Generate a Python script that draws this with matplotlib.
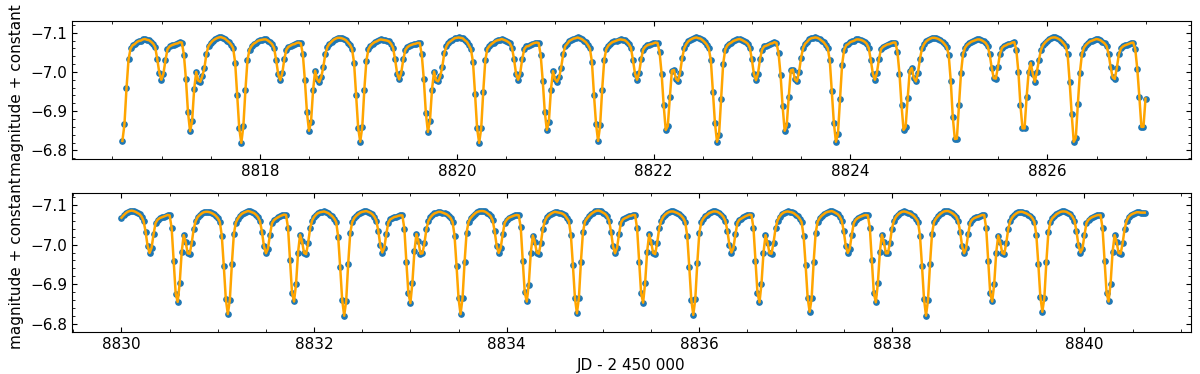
import numpy as np
import matplotlib
matplotlib.use("Agg")
import matplotlib.pyplot as plt
from matplotlib.ticker import MultipleLocator, AutoMinorLocator

# ---------------- data ----------------
cadence = 0.0208333          # days between samples (30 min)
top_start = 8816.602         # JD - 2450000 of first point, upper panel
bottom_start = 8830.000      # JD - 2450000 of first point, lower panel

top_mag = [
    # cycle 0
    -6.824, -6.866, -6.958, -7.032, -7.060, -7.068, -7.071, -7.076, -7.079, -7.080,
    -7.083, -7.084, -7.082, -7.081, -7.077, -7.072, -7.063, -7.033, -6.998, -6.980,
    -6.995, -7.030, -7.058, -7.065, -7.068, -7.070, -7.072, -7.073, -7.076, -7.075,
    -7.044, -6.981, -6.897, -6.849, -6.874, -6.956, -7.000, -6.978, -6.975, -6.990,
    -7.010, -7.047, -7.066, -7.073, -7.079, -7.083, -7.086, -7.088, -7.089, -7.087,
    -7.085, -7.080, -7.076, -7.070, -7.061, -7.024, -6.940, -6.856,
    # cycle 1
    -6.819, -6.862, -6.953, -7.030, -7.057, -7.066, -7.072, -7.075, -7.079, -7.081,
    -7.082, -7.083, -7.083, -7.080, -7.076, -7.071, -7.061, -7.030, -6.994, -6.979,
    -6.997, -7.034, -7.057, -7.064, -7.067, -7.070, -7.071, -7.074, -7.075, -7.073,
    -7.046, -6.979, -6.898, -6.850, -6.872, -6.953, -7.003, -6.981, -6.974, -6.987,
    -7.013, -7.046, -7.064, -7.072, -7.077, -7.082, -7.085, -7.087, -7.087, -7.086,
    -7.084, -7.081, -7.075, -7.069, -7.059, -7.023, -6.941, -6.857,
    # cycle 2
    -6.822, -6.860, -6.955, -7.029, -7.058, -7.067, -7.072, -7.076, -7.078, -7.081,
    -7.083, -7.082, -7.081, -7.080, -7.078, -7.072, -7.062, -7.032, -6.996, -6.981,
    -6.998, -7.032, -7.056, -7.063, -7.067, -7.069, -7.071, -7.072, -7.074, -7.074,
    -7.045, -6.982, -6.896, -6.847, -6.875, -6.955, -7.001, -6.979, -6.976, -6.989,
    -7.012, -7.048, -7.065, -7.074, -7.078, -7.082, -7.086, -7.087, -7.088, -7.087,
    -7.086, -7.081, -7.077, -7.068, -7.058, -7.025, -6.944, -6.856,
    # cycle 3
    -6.819, -6.856, -6.950, -7.030, -7.059, -7.066, -7.071, -7.075, -7.079, -7.081,
    -7.082, -7.084, -7.082, -7.080, -7.077, -7.073, -7.062, -7.033, -6.995, -6.980,
    -6.996, -7.033, -7.058, -7.065, -7.066, -7.069, -7.072, -7.074, -7.075, -7.074,
    -7.044, -6.978, -6.899, -6.852, -6.873, -6.954, -7.002, -6.982, -6.975, -6.986,
    -7.011, -7.046, -7.066, -7.072, -7.079, -7.082, -7.085, -7.086, -7.088, -7.086,
    -7.084, -7.080, -7.076, -7.069, -7.060, -7.026, -6.942, -6.868,
    # cycle 4
    -6.824, -6.864, -6.955, -7.031, -7.058, -7.067, -7.072, -7.076, -7.078, -7.080,
    -7.082, -7.083, -7.082, -7.081, -7.077, -7.071, -7.062, -7.031, -6.996, -6.980,
    -6.997, -7.032, -7.057, -7.064, -7.068, -7.070, -7.071, -7.073, -7.075, -7.074,
    -7.050, -6.995, -6.915, -6.852, -6.862, -6.935, -7.003, -7.005, -6.982, -6.977,
    -6.998, -7.035, -7.060, -7.071, -7.078, -7.082, -7.085, -7.087, -7.088, -7.086,
    -7.085, -7.081, -7.076, -7.070, -7.060, -7.030, -6.950, -6.870,
    # cycle 5
    -6.822, -6.840, -6.930, -7.020, -7.057, -7.067, -7.072, -7.075, -7.079, -7.081,
    -7.083, -7.084, -7.082, -7.079, -7.076, -7.072, -7.062, -7.032, -6.995, -6.979,
    -6.996, -7.033, -7.057, -7.065, -7.067, -7.069, -7.072, -7.073, -7.076, -7.074,
    -7.049, -6.993, -6.913, -6.850, -6.864, -6.937, -7.004, -7.006, -6.981, -6.976,
    -6.999, -7.036, -7.061, -7.072, -7.077, -7.083, -7.086, -7.087, -7.088, -7.087,
    -7.084, -7.080, -7.076, -7.069, -7.061, -7.030, -6.952, -6.870,
    # cycle 6
    -6.822, -6.842, -6.930, -7.018, -7.056, -7.068, -7.071, -7.076, -7.078, -7.080,
    -7.083, -7.083, -7.082, -7.080, -7.077, -7.072, -7.061, -7.031, -6.996, -6.980,
    -6.998, -7.033, -7.058, -7.064, -7.067, -7.070, -7.071, -7.073, -7.075, -7.075,
    -7.051, -6.996, -6.915, -6.852, -6.860, -6.933, -7.002, -7.010, -6.985, -6.976,
    -6.997, -7.034, -7.060, -7.071, -7.078, -7.082, -7.085, -7.087, -7.087, -7.086,
    -7.084, -7.081, -7.077, -7.071, -7.064, -7.044, -6.978, -6.885,
    # cycle 7
    -6.829, -6.830, -6.915, -6.997, -7.046, -7.062, -7.069, -7.073, -7.077, -7.079,
    -7.081, -7.083, -7.083, -7.081, -7.078, -7.074, -7.066, -7.045, -7.010, -6.984,
    -6.983, -7.012, -7.046, -7.061, -7.066, -7.068, -7.071, -7.072, -7.075, -7.076,
    -7.056, -7.000, -6.915, -6.856, -6.856, -6.935, -7.000, -7.023, -6.996, -6.975,
    -7.000, -7.030, -7.056, -7.068, -7.075, -7.080, -7.084, -7.087, -7.088, -7.088,
    -7.086, -7.083, -7.079, -7.073, -7.066, -7.045, -6.975, -6.892,
    # cycle 8 (partial)
    -6.822, -6.832, -6.918, -6.998, -7.046, -7.062, -7.069, -7.074, -7.078, -7.080,
    -7.082, -7.084, -7.083, -7.081, -7.077, -7.073, -7.066, -7.046, -7.012, -6.986,
    -6.982, -7.010, -7.045, -7.060, -7.065, -7.068, -7.070, -7.072, -7.074, -7.075,
    -7.058, -7.007, -6.936, -6.860, -6.860, -6.932,
]

bottom_mag = [
    # partial cycle
    -7.068, -7.074, -7.079, -7.083, -7.085,
    -7.086, -7.085, -7.083, -7.080, -7.077, -7.071, -7.060, -7.033, -6.997, -6.979,
    -6.992, -7.027, -7.055, -7.063, -7.067, -7.069, -7.071, -7.073, -7.075, -7.074,
    -7.042, -6.958, -6.876, -6.855, -6.902, -6.981, -7.024, -7.006, -6.978, -6.977,
    -7.004, -7.040, -7.060, -7.070, -7.075, -7.079, -7.082, -7.083, -7.083, -7.082,
    -7.080, -7.077, -7.073, -7.067, -7.058, -7.022, -6.945, -6.862,
    # cycle 1
    -6.824, -6.860, -6.950, -7.027, -7.056, -7.066, -7.073, -7.078, -7.081, -7.083,
    -7.085, -7.084, -7.082, -7.080, -7.076, -7.070, -7.060, -7.033, -6.996, -6.978,
    -6.990, -7.025, -7.054, -7.062, -7.066, -7.069, -7.072, -7.074, -7.076, -7.075,
    -7.043, -6.960, -6.878, -6.856, -6.900, -6.980, -7.025, -7.008, -6.979, -6.976,
    -7.003, -7.041, -7.061, -7.070, -7.076, -7.080, -7.082, -7.083, -7.084, -7.082,
    -7.080, -7.076, -7.072, -7.066, -7.057, -7.020, -6.943, -6.860,
    # cycle 2
    -6.820, -6.858, -6.952, -7.029, -7.057, -7.067, -7.073, -7.077, -7.081, -7.083,
    -7.084, -7.085, -7.083, -7.081, -7.077, -7.071, -7.061, -7.035, -6.998, -6.980,
    -6.992, -7.027, -7.056, -7.064, -7.067, -7.070, -7.071, -7.073, -7.074, -7.074,
    -7.040, -6.955, -6.877, -6.852, -6.904, -6.983, -7.027, -7.008, -6.977, -6.978,
    -7.004, -7.040, -7.060, -7.069, -7.075, -7.079, -7.081, -7.083, -7.083, -7.081,
    -7.079, -7.077, -7.073, -7.068, -7.058, -7.023, -6.946, -6.864,
    # cycle 3
    -6.824, -6.865, -6.955, -7.030, -7.058, -7.067, -7.073, -7.078, -7.082, -7.084,
    -7.085, -7.085, -7.084, -7.081, -7.077, -7.072, -7.062, -7.034, -6.997, -6.979,
    -6.991, -7.026, -7.055, -7.063, -7.068, -7.070, -7.072, -7.074, -7.075, -7.074,
    -7.044, -6.959, -6.879, -6.856, -6.899, -6.979, -7.023, -7.007, -6.980, -6.977,
    -7.003, -7.039, -7.059, -7.069, -7.074, -7.078, -7.081, -7.083, -7.082, -7.081,
    -7.080, -7.078, -7.074, -7.067, -7.059, -7.024, -6.948, -6.866,
    # cycle 4
    -6.826, -6.866, -6.957, -7.031, -7.058, -7.066, -7.072, -7.077, -7.081, -7.084,
    -7.086, -7.086, -7.084, -7.081, -7.078, -7.072, -7.061, -7.033, -6.996, -6.978,
    -6.992, -7.027, -7.056, -7.064, -7.067, -7.069, -7.072, -7.073, -7.075, -7.075,
    -7.041, -6.957, -6.877, -6.853, -6.903, -6.982, -7.026, -7.006, -6.979, -6.976,
    -7.004, -7.041, -7.060, -7.070, -7.076, -7.080, -7.083, -7.084, -7.084, -7.082,
    -7.080, -7.077, -7.073, -7.067, -7.057, -7.021, -6.944, -6.861,
    # cycle 5
    -6.822, -6.862, -6.953, -7.029, -7.057, -7.066, -7.072, -7.076, -7.080, -7.082,
    -7.084, -7.084, -7.083, -7.080, -7.076, -7.070, -7.060, -7.035, -6.999, -6.980,
    -6.991, -7.026, -7.055, -7.063, -7.066, -7.069, -7.072, -7.074, -7.076, -7.075,
    -7.042, -6.958, -6.878, -6.854, -6.901, -6.980, -7.024, -7.005, -6.978, -6.977,
    -7.005, -7.041, -7.061, -7.071, -7.077, -7.081, -7.083, -7.084, -7.083, -7.082,
    -7.080, -7.076, -7.072, -7.066, -7.057, -7.022, -6.948, -6.866,
    # cycle 6
    -6.830, -6.864, -6.956, -7.030, -7.058, -7.067, -7.073, -7.077, -7.081, -7.083,
    -7.084, -7.085, -7.083, -7.080, -7.077, -7.071, -7.061, -7.034, -6.997, -6.979,
    -6.990, -7.025, -7.054, -7.063, -7.067, -7.070, -7.072, -7.074, -7.075, -7.074,
    -7.043, -6.960, -6.877, -6.854, -6.902, -6.981, -7.025, -7.007, -6.978, -6.978,
    -7.003, -7.040, -7.060, -7.070, -7.076, -7.080, -7.083, -7.084, -7.083, -7.081,
    -7.079, -7.076, -7.072, -7.066, -7.058, -7.023, -6.947, -6.863,
    # cycle 7
    -6.820, -6.860, -6.951, -7.028, -7.057, -7.066, -7.072, -7.077, -7.081, -7.084,
    -7.085, -7.085, -7.083, -7.080, -7.076, -7.071, -7.060, -7.033, -6.996, -6.978,
    -6.991, -7.026, -7.055, -7.063, -7.067, -7.069, -7.071, -7.073, -7.075, -7.075,
    -7.042, -6.958, -6.878, -6.856, -6.900, -6.980, -7.023, -7.006, -6.979, -6.976,
    -7.004, -7.040, -7.060, -7.069, -7.075, -7.079, -7.082, -7.083, -7.083, -7.081,
    -7.079, -7.076, -7.073, -7.067, -7.058, -7.024, -6.950, -6.868,
    # cycle 8 (partial)
    -6.830, -6.866, -6.957, -7.031, -7.058, -7.067, -7.072, -7.077, -7.080, -7.083,
    -7.084, -7.084, -7.083, -7.080, -7.077, -7.071, -7.061, -7.034, -6.998, -6.980,
    -6.990, -7.025, -7.055, -7.063, -7.067, -7.070, -7.072, -7.074, -7.075, -7.075,
    -7.042, -6.958, -6.878, -6.856, -6.901, -6.981, -7.024, -7.007, -6.979, -6.977,
    -7.003, -7.040, -7.060, -7.070, -7.075, -7.078, -7.080, -7.082, -7.082, -7.081,
    -7.081, -7.081,
]

top_xticks = [8818, 8820, 8822, 8824, 8826]
bottom_xticks = [8830, 8832, 8834, 8836, 8838, 8840]
yticks = [-7.1, -7.0, -6.9, -6.8]

# ---------------- figure ----------------
plt.rcParams['font.family'] = ['DejaVu Sans']
fig = plt.figure(figsize=(12, 3.74), dpi=100)
ax1 = fig.add_axes([0.0600, 0.5749, 0.9325, 0.3690])
ax2 = fig.add_axes([0.0600, 0.1115, 0.9325, 0.3717])

panels = [
    (ax1, top_start, top_mag, top_xticks, (8816.09, 8827.46)),
    (ax2, bottom_start, bottom_mag, bottom_xticks, (8829.486, 8841.106)),
]

for ax, t0, mags, xt, xl in panels:
    mags = np.asarray(mags)
    t = t0 + cadence * np.arange(len(mags))
    ax.plot(t, mags, 'o', color='#1f77b4', ms=3.8, zorder=2)
    ax.plot(t, mags, '-', color='orange', lw=1.8, zorder=3)
    ax.set_xlim(*xl)
    ax.set_ylim(-6.778, -7.130)
    ax.set_xticks(xt)
    ax.set_xticklabels([str(v) for v in xt])
    ax.set_yticks(yticks)
    ax.set_yticklabels(['\u22127.1', '\u22127.0', '\u22126.9', '\u22126.8'])
    ax.xaxis.set_minor_locator(AutoMinorLocator(4))
    ax.yaxis.set_minor_locator(AutoMinorLocator(5))
    ax.tick_params(which='both', direction='in', top=True, right=True, labelsize=11)
    ax.set_ylabel('magnitude + constant', fontsize=11)

ax2.set_xlabel('JD - 2 450 000', fontsize=11)

fig.savefig('out.png', dpi=100)
